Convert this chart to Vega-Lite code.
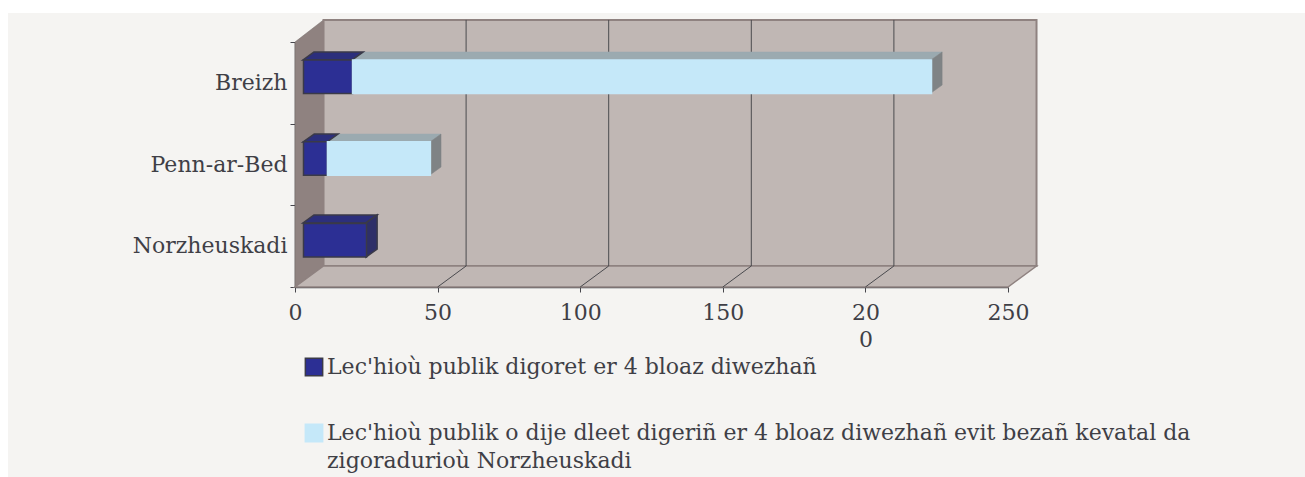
{
"$schema":"https://vega.github.io/schema/vega-lite/v6.json",
"width":1297,"height":464,
"autosize":{"type":"none"},
"padding":{"left":8,"top":13,"right":0,"bottom":0},
"background":"#ffffff",
"view":{"fill":"#f5f4f2","stroke":null},
"config":{"font":"DejaVu Serif"},
"resolve":{"scale":{"y":"independent"},"axis":{"y":"independent"}},
"datasets":{
"bars":[
{"cat":"Breizh","series":"Lec'hioù publik digoret er 4 bloaz diwezhañ","start":0,"end":17.2},
{"cat":"Breizh","series":"Lec'hioù publik o dije dleet digeriñ er 4 bloaz diwezhañ evit bezañ kevatal da zigoradurioù Norzheuskadi","start":17.2,"end":220.2},
{"cat":"Penn-ar-Bed","series":"Lec'hioù publik digoret er 4 bloaz diwezhañ","start":0,"end":8.4},
{"cat":"Penn-ar-Bed","series":"Lec'hioù publik o dije dleet digeriñ er 4 bloaz diwezhañ evit bezañ kevatal da zigoradurioù Norzheuskadi","start":8.4,"end":44.5},
{"cat":"Norzheuskadi","series":"Lec'hioù publik digoret er 4 bloaz diwezhañ","start":0,"end":22.1}
],
"topDark":[
{"id":"b1","x0":2.8,"x1":20,"lvl":2.78},{"id":"b1","x0":6.7,"x1":23.9,"lvl":2.878},
{"id":"p1","x0":2.8,"x1":11.2,"lvl":1.775},{"id":"p1","x0":6.7,"x1":15.1,"lvl":1.873},
{"id":"n1","x0":2.8,"x1":24.9,"lvl":0.784},{"id":"n1","x0":6.7,"x1":28.8,"lvl":0.882}
],
"topLight":[
{"id":"b2","x0":20,"x1":223,"lvl":2.78},{"id":"b2","x0":23.9,"x1":226.9,"lvl":2.878},
{"id":"p2","x0":11.2,"x1":47.3,"lvl":1.775},{"id":"p2","x0":15.1,"x1":51.2,"lvl":1.873}
],
"sideLight":[
{"id":"b","x":223,"y0":2.375,"y1":2.78},{"id":"b","x":226.9,"y0":2.473,"y1":2.878},
{"id":"p","x":47.3,"y0":1.371,"y1":1.775},{"id":"p","x":51.2,"y0":1.469,"y1":1.873}
],
"sideDark":[
{"id":"n","x":24.9,"y0":0.367,"y1":0.784},{"id":"n","x":28.8,"y0":0.465,"y1":0.882}
],
"grid":[{"v":50},{"v":100},{"v":150},{"v":200}]
},
"layer":[
{"layer":[
{"data":{"values":[{"x":0,"y0":0,"y1":3},{"x":10,"y0":0.257,"y1":3.27}]},
 "mark":{"type":"area","fill":"#8f8280","stroke":"#6f6563","strokeWidth":0.5},
 "encoding":{
  "x":{"field":"x","type":"quantitative","title":null,"scale":{"domain":[0,250],"range":[287,1000]},
   "axis":{"offset":-190,"values":[0,50,100,150,200,250],"grid":false,"domainColor":"#46464c","domainWidth":1.5,"tickColor":"#46464c","tickSize":5,"labelFont":"DejaVu Serif","labelFontSize":22,"labelColor":"#3f3f46","labelPadding":10,"labelLineHeight":27,"labelFlush":false,"labelOverlap":false,"labelExpr":"datum.value==200?['20','0']:datum.label"}},
  "y":{"field":"y0","type":"quantitative","title":null,"scale":{"domain":[0,3],"range":[274,29]},
   "axis":{"offset":-287,"values":[0,1,2,3],"labels":false,"grid":false,"domainColor":"#46464c","domainWidth":1.5,"tickColor":"#46464c","tickSize":5}},
  "y2":{"field":"y1"}}},
{"data":{"values":[{"x":10,"x2":260,"y0":0.257,"y1":3.27}]},
 "mark":{"type":"rect","fill":"#c0b7b4","stroke":"#8f8280","strokeWidth":2},
 "encoding":{
  "x":{"field":"x","type":"quantitative","title":null,"scale":{"domain":[0,250],"range":[287,1000]}},"x2":{"field":"x2"},
  "y":{"field":"y0","type":"quantitative","title":null,"scale":{"domain":[0,3],"range":[274,29]}},"y2":{"field":"y1"}}},
{"data":{"values":[{"x0":0,"x1":250,"y":0},{"x0":10,"x1":260,"y":0.257}]},
 "mark":{"type":"area","orient":"horizontal","fill":"#c0b7b4","stroke":"#8f8280","strokeWidth":1.5},
 "encoding":{
  "y":{"field":"y","type":"quantitative","title":null,"scale":{"domain":[0,3],"range":[274,29]}},
  "x":{"field":"x0","type":"quantitative","title":null,"scale":{"domain":[0,250],"range":[287,1000]}},"x2":{"field":"x1"}}},
{"data":{"name":"grid"},
 "mark":{"type":"rule","color":"#4a4a4e","strokeWidth":1,"xOffset":28.5},
 "encoding":{
  "x":{"field":"v","type":"quantitative","title":null,"scale":{"domain":[0,250],"range":[287,1000]}},
  "y":{"datum":0.257,"type":"quantitative","title":null,"scale":{"domain":[0,3],"range":[274,29]}},"y2":{"datum":3.27}}},
{"data":{"name":"grid"},
 "mark":{"type":"rule","color":"#4a4a4e","strokeWidth":1,"x2Offset":28.5},
 "encoding":{
  "x":{"field":"v","type":"quantitative","title":null,"scale":{"domain":[0,250],"range":[287,1000]}},"x2":{"field":"v"},
  "y":{"datum":0,"type":"quantitative","title":null,"scale":{"domain":[0,3],"range":[274,29]}},"y2":{"datum":0.257}}},
{"data":{"name":"topLight"},
 "mark":{"type":"area","orient":"horizontal","fill":"#9baab0","stroke":"#9baab0","strokeWidth":0.5},
 "encoding":{
  "detail":{"field":"id"},
  "y":{"field":"lvl","type":"quantitative","title":null,"scale":{"domain":[0,3],"range":[274,29]}},
  "x":{"field":"x0","type":"quantitative","title":null,"scale":{"domain":[0,250],"range":[287,1000]}},"x2":{"field":"x1"}}},
{"data":{"name":"topDark"},
 "mark":{"type":"area","orient":"horizontal","fill":"#2c2f7c","stroke":"#3a3a48","strokeWidth":1.5},
 "encoding":{
  "detail":{"field":"id"},
  "y":{"field":"lvl","type":"quantitative","title":null,"scale":{"domain":[0,3],"range":[274,29]}},
  "x":{"field":"x0","type":"quantitative","title":null,"scale":{"domain":[0,250],"range":[287,1000]}},"x2":{"field":"x1"}}},
{"data":{"name":"sideLight"},
 "mark":{"type":"area","fill":"#7f8385","stroke":"#7f8385","strokeWidth":0.5},
 "encoding":{
  "detail":{"field":"id"},
  "x":{"field":"x","type":"quantitative","title":null,"scale":{"domain":[0,250],"range":[287,1000]}},
  "y":{"field":"y0","type":"quantitative","title":null,"scale":{"domain":[0,3],"range":[274,29]}},"y2":{"field":"y1"}}},
{"data":{"name":"sideDark"},
 "mark":{"type":"area","fill":"#2e2f68","stroke":"#3a3a48","strokeWidth":1.5},
 "encoding":{
  "detail":{"field":"id"},
  "x":{"field":"x","type":"quantitative","title":null,"scale":{"domain":[0,250],"range":[287,1000]}},
  "y":{"field":"y0","type":"quantitative","title":null,"scale":{"domain":[0,3],"range":[274,29]}},"y2":{"field":"y1"}}}
]},
{"data":{"name":"bars"},
 "mark":{"type":"bar","xOffset":8.5,"x2Offset":8.5,"yOffset":-6,"y2Offset":-6,"strokeWidth":1.5},
 "encoding":{
  "y":{"field":"cat","type":"nominal","sort":["Breizh","Penn-ar-Bed","Norzheuskadi"],
   "scale":{"range":[29,274],"paddingInner":0.59,"paddingOuter":0.295},
   "axis":{"title":null,"orient":"left","offset":-287,"ticks":false,"domain":false,"labelFont":"DejaVu Serif","labelFontSize":22,"labelColor":"#3f3f46","labelPadding":8}},
  "x":{"field":"start","type":"quantitative","title":null,"scale":{"domain":[0,250],"range":[287,1000]}},
  "x2":{"field":"end"},
  "fill":{"field":"series","type":"nominal","title":null,
   "scale":{"range":["#2c2f94","#c5e8f9"]},
   "legend":{"orient":"none","legendX":295,"legendY":343,"columns":1,"title":null,"symbolType":"square","symbolSize":300,"labelLimit":1100,"labelFont":"DejaVu Serif","labelFontSize":22,"labelColor":"#3f3f46","labelOffset":2,"rowPadding":42,
    "encode":{"labels":{"update":{"lineHeight":{"value":28}}}},
    "labelExpr":"indexof(datum.label,'kevatal')>0?['Lec\\'hioù publik o dije dleet digeriñ er 4 bloaz diwezhañ evit bezañ kevatal da','zigoradurioù Norzheuskadi']:datum.label"}},
  "stroke":{"field":"series","type":"nominal","title":null,"scale":{"range":["#3a3a48","#c5e8f9"]}}}}
]
}
